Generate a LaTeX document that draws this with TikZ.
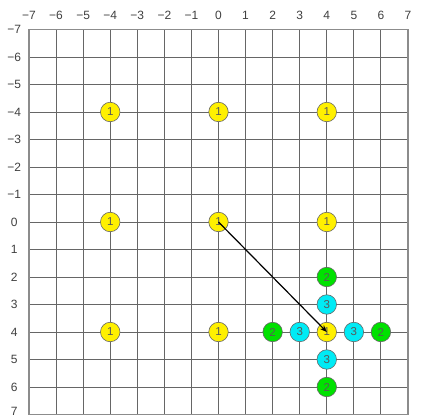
\documentclass[tikz,border=0pt]{standalone}
\usepackage{fontspec}
\setmainfont{Liberation Sans}
\usetikzlibrary{arrows.meta}
\definecolor{dotyellow}{RGB}{255,240,0}
\definecolor{dotgreen}{RGB}{0,225,0}
\definecolor{dotcyan}{RGB}{0,235,245}
\begin{document}
\begin{tikzpicture}[x=1pt,y=1pt,
  gridline/.style={draw=black!60,line width=0.9pt},
  axlabel/.style={font=\fontsize{12}{12}\selectfont,text=black!75,inner sep=0pt},
  dot/.style={circle,draw=black!60,line width=0.6pt,minimum size=19.5pt,inner sep=0pt,font=\fontsize{11.5}{11.5}\selectfont,text=black!65},
  one/.style={dot,fill=dotyellow},
  two/.style={dot,fill=dotgreen},
  three/.style={dot,fill=dotcyan},
  arrowline/.style={draw=black,line width=1.2pt,-{Stealth[length=7pt,width=5.5pt]}}]
\useasboundingbox (0,0) rectangle (422,-419);
\fill[white] (0,0) rectangle (422,-419);
\begin{scope}[shift={(218.5,-222)},x=27.07pt,y=-27.5pt]
  \foreach \i in {-7,...,7} {
    \draw[gridline] (\i,-7) -- (\i,7);
    \draw[gridline] (-7,\i) -- (7,\i);
    \node[axlabel] (tx\i) at (\i,-7.5) {\ifnum\i<0 −\the\numexpr-\i\relax\else\i\fi};
  }
  \foreach \i in {-7,...,6} {
    \node[axlabel] (ly\i) at (-7.55,\i) {\ifnum\i<0 −\the\numexpr-\i\relax\else\i\fi};
  }
  \node[axlabel] (ly7) at (-7.55,6.88) {7};
  \draw[draw=black!45,line width=1.2pt] (-7,-7) rectangle (7,7);
  \foreach \a/\b/\n in {-4/-4/a,0/-4/b,4/-4/c,-4/0/d,0/0/e,4/0/f,-4/4/g,0/4/h,4/4/k} {
    \node[one] (\n) at (\a,\b) {1};
  }
  \node[two] (g1) at (4,2) {2};
  \node[two] (g2) at (2,4) {2};
  \node[two] (g3) at (6,4) {2};
  \node[two] (g4) at (4,6) {2};
  \node[three] (c1) at (4,3) {3};
  \node[three] (c2) at (3,4) {3};
  \node[three] (c3) at (5,4) {3};
  \node[three] (c4) at (4,5) {3};
  \draw[arrowline] (e.center) -- (k.center);
\end{scope}
\end{tikzpicture}
\end{document}
